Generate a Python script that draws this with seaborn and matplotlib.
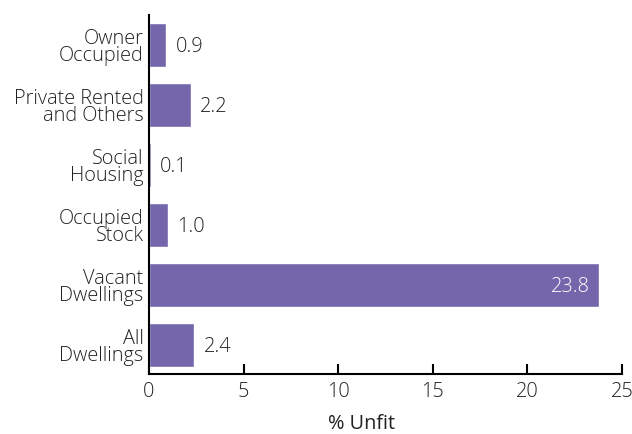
import matplotlib
matplotlib.use("Agg")
import matplotlib.pyplot as plt
import seaborn as sns
import pandas as pd

categories = ["Owner\nOccupied", "Private Rented\nand Others", "Social\nHousing",
              "Occupied\nStock", "Vacant\nDwellings", "All\nDwellings"]
pct_unfit = [0.9, 2.2, 0.1, 1.0, 23.8, 2.4]
x_ticks = [0, 5, 10, 15, 20, 25]

sns.set_theme(style="white")
plt.rcParams["font.family"] = ["Open Sans", "DejaVu Sans"]
plt.rcParams["font.weight"] = "light"

df = pd.DataFrame({"category": categories, "value": pct_unfit})

fig = plt.figure(figsize=(6.32, 4.35), dpi=100)
ax = fig.add_axes([149 / 632, 60 / 435, 473 / 632, 359 / 435])

bar_color = "#7366ab"
text_color = "#222222"
fs = 14.3
sns.barplot(data=df, x="value", y="category", color=bar_color, orient="h",
            width=0.733, saturation=1, ax=ax)

ax.set_xlim(0, 25)
ax.set_ylim(5.48, -0.5)
ax.set_xticks(x_ticks)
ax.set_xticklabels([str(t) for t in x_ticks], fontsize=fs, color=text_color)
ax.tick_params(axis="x", bottom=True, direction="in", length=7, width=1.5,
               color="black", pad=5)
ax.tick_params(axis="y", left=False, length=0, pad=4, labelsize=fs,
               labelcolor=text_color)
for lbl in ax.get_yticklabels():
    lbl.set_linespacing(0.82)

ax.set_xlabel("% Unfit", fontsize=fs, color=text_color, labelpad=9, x=0.45)
ax.set_ylabel("")

for side in ["top", "right"]:
    ax.spines[side].set_visible(False)
for side in ["left", "bottom"]:
    ax.spines[side].set_color("black")
    ax.spines[side].set_linewidth(1.5)

for i, v in enumerate(pct_unfit):
    if v > 20:
        ax.text(v - 0.5, i + 0.02, f"{v:.1f}", ha="right", va="center",
                fontsize=fs, color="white")
    else:
        ax.text(v + 0.5, i + 0.02, f"{v:.1f}", ha="left", va="center",
                fontsize=fs, color=text_color)

fig.savefig("out.png", dpi=100)
